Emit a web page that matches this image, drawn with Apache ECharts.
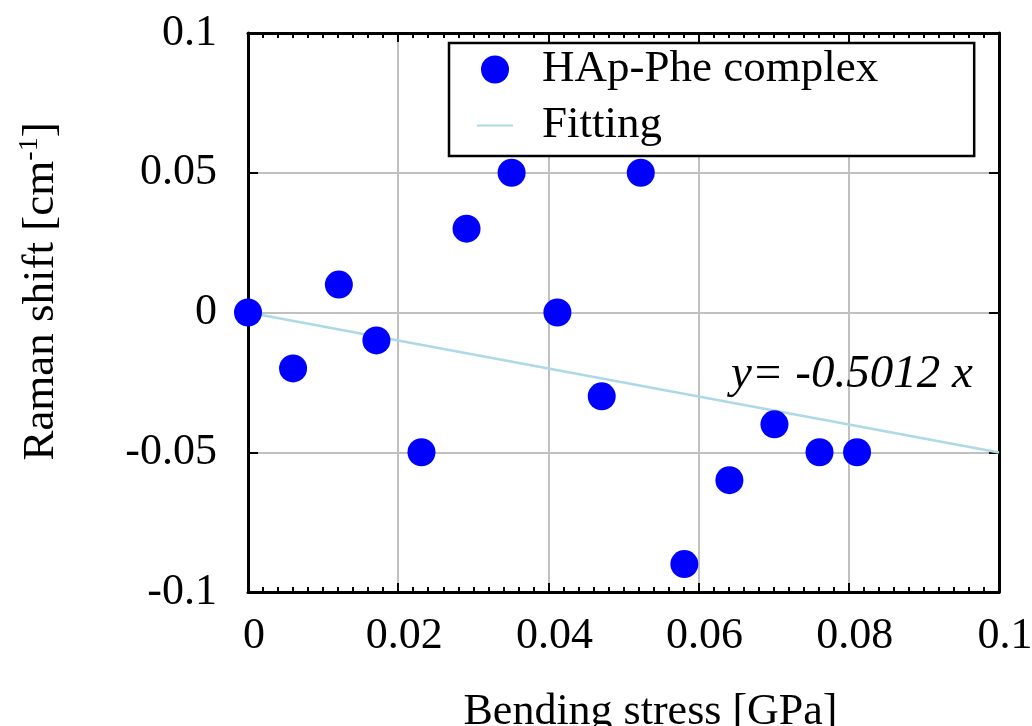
<!DOCTYPE html>
<html><head><meta charset="utf-8">
<script src="https://cdn.jsdelivr.net/npm/echarts@6/dist/echarts.min.js"></script>
<style>html,body{margin:0;padding:0;background:#fff}#c{width:1032px;height:726px}</style>
</head><body><div id="c"></div>
<script>
const stressX = [0, 0.006, 0.0121, 0.0171, 0.0231, 0.0291, 0.0351, 0.0412, 0.0471, 0.0523, 0.0581, 0.0641, 0.0701, 0.0761, 0.0811];
const ramanY = [0, -0.02, 0.01, -0.01, -0.05, 0.03, 0.05, 0, -0.03, 0.05, -0.09, -0.06, -0.04, -0.05, -0.05];
const fitX = [0, 0.1];
const fitY = [0, -0.05012];
const xTicks = [0, 0.02, 0.04, 0.06, 0.08, 0.1];
const yTicks = [-0.1, -0.05, 0, 0.05, 0.1];
const seriesNames = ['HAp-Phe complex', 'Fitting'];
const equationText = 'y= -0.5012 x';

const FONT = 'Liberation Serif';
const chart = echarts.init(document.getElementById('c'));
const fmt = v => { const r = Math.round(v * 1000) / 1000; return String(r); };
const baseX = {
  type: 'value', min: xTicks[0], max: xTicks[xTicks.length - 1], interval: 0.02,
  axisLine: { show: true, onZero: false, lineStyle: { color: '#000', width: 3 } },
  axisTick: { show: true, inside: true, length: 9, lineStyle: { color: '#000', width: 2 } },
  minorTick: { show: true, splitNumber: 10, length: 5, lineStyle: { color: '#000', width: 2 } }
};
const baseY = {
  type: 'value', min: yTicks[0], max: yTicks[yTicks.length - 1], interval: 0.05,
  axisLine: { show: true, onZero: false, lineStyle: { color: '#000', width: 3 } },
  axisTick: { show: true, inside: true, length: 10, lineStyle: { color: '#000', width: 2 } }
};
chart.setOption({
  animation: false,
  backgroundColor: '#fff',
  textStyle: { fontFamily: FONT },
  grid: { left: 248, right: 33, top: 33, bottom: 134, containLabel: false, outerBoundsMode: 'none' },
  xAxis: [
    Object.assign({}, baseX, {
      position: 'bottom',
      name: 'Bending stress [GPa]', nameLocation: 'middle', nameGap: 98,
      nameTextStyle: { fontFamily: FONT, fontSize: 44, color: '#000', padding: [0, 0, 0, 54] },
      axisLabel: { show: true, fontFamily: FONT, fontSize: 44, color: '#000', margin: 22, formatter: fmt, padding: [0, 0, 0, 12] },
      splitLine: { show: true, lineStyle: { color: '#c0c0c0', width: 2 } }
    }),
    Object.assign({}, baseX, {
      position: 'top', axisLabel: { show: false }, splitLine: { show: false }
    })
  ],
  yAxis: [
    Object.assign({}, baseY, {
      position: 'left',
      name: '{a|Raman shift [cm}{s|-1}{a|]}', nameLocation: 'middle', nameGap: 182,
      nameTextStyle: {
        padding: [0, 0, 0, 42],
        rich: {
          a: { fontFamily: FONT, fontSize: 45, color: '#000' },
          s: { fontFamily: FONT, fontSize: 28, color: '#000', verticalAlign: 'top', padding: [0, 0, 22, 0] }
        }
      },
      axisLabel: { show: true, fontFamily: FONT, fontSize: 44, color: '#000', margin: 31, formatter: fmt },
      splitLine: { show: true, lineStyle: { color: '#c0c0c0', width: 2 } }
    }),
    Object.assign({}, baseY, {
      position: 'right', axisLabel: { show: false }, splitLine: { show: false }
    })
  ],
  legend: {
    orient: 'vertical', left: 449, top: 43,
    data: [
      { name: seriesNames[0], icon: 'circle' },
      { name: seriesNames[1], itemStyle: { opacity: 0 } }
    ],
    itemWidth: 36, itemHeight: 28, itemGap: 11,
    padding: [4, 96, 8, 27],
    borderColor: '#000', borderWidth: 2.5, backgroundColor: '#fff',
    textStyle: { fontFamily: FONT, fontSize: 45, color: '#000', padding: [0, 0, 0, 24] }
  },
  series: [
    {
      name: seriesNames[1], type: 'line', symbol: 'none', showSymbol: false, z: 2,
      data: fitX.map((x, i) => [x, fitY[i]]),
      lineStyle: { color: '#add8e6', width: 2.5 }, itemStyle: { color: '#add8e6' }
    },
    {
      name: seriesNames[0], type: 'scatter', symbol: 'circle', symbolSize: 28, z: 5,
      data: stressX.map((x, i) => [x, ramanY[i]]),
      itemStyle: { color: '#0000ff', opacity: 1 }
    }
  ],
  graphic: [{
    type: 'text', left: 731, top: 351, z: 10,
    style: { text: equationText, fontFamily: FONT, fontSize: 47, fontStyle: 'italic', fill: '#000' }
  }]
});
</script></body></html>
